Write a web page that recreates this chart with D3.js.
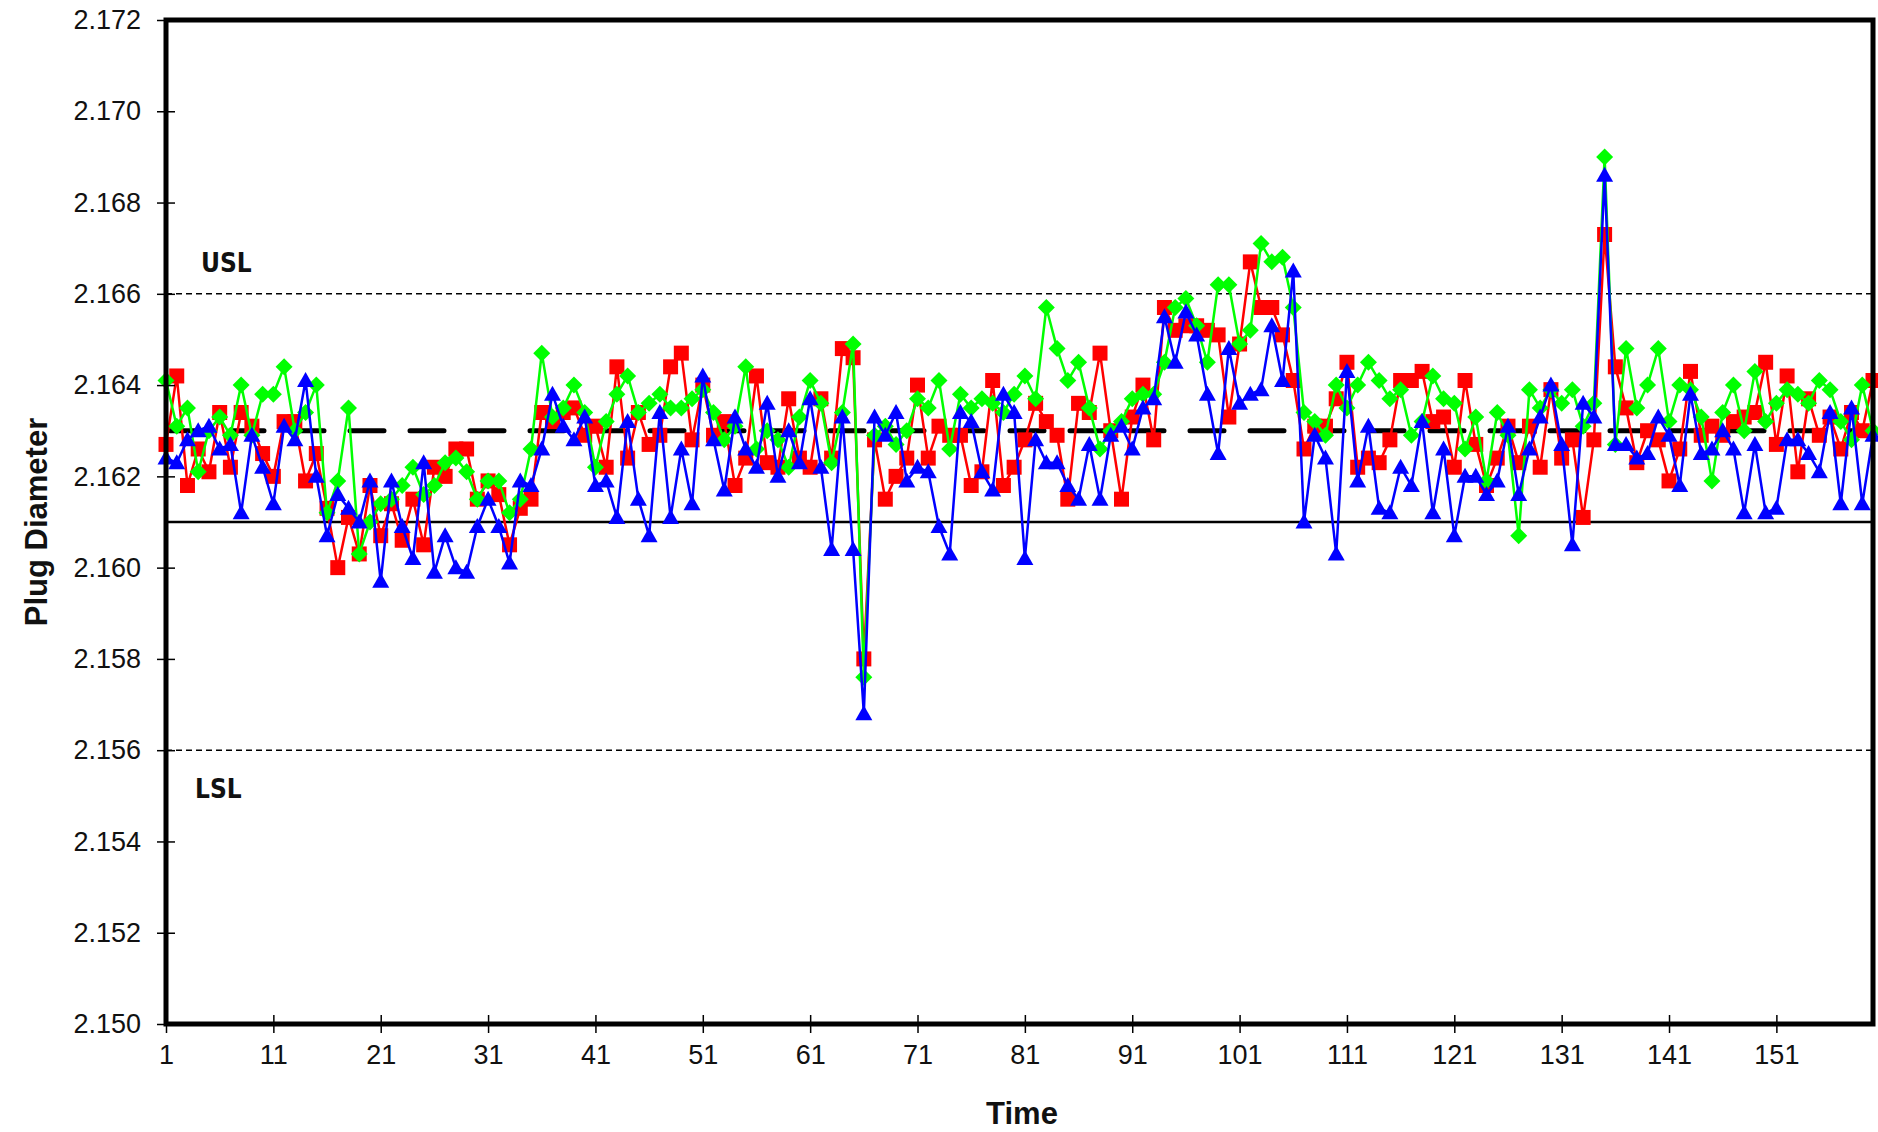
<!DOCTYPE html>
<html>
<head>
<meta charset="utf-8">
<script src="https://cdn.jsdelivr.net/npm/d3@7/dist/d3.min.js"></script>
<style>
  html, body { margin: 0; padding: 0; background: #fff; }
  svg { display: block; }
</style>
</head>
<body>
<svg id="chart" width="1878" height="1132"></svg>
<script>
// Sample index (time) for each measurement
const timeIndex = d3.range(1, 161);

// Plug diameter readings, three gauges
const seriesRed = [
  2.1627,2.1642,2.1618,2.1626,2.1621,2.1634,2.1622,2.1634,2.1631,2.1625,
  2.1620,2.1632,2.1632,2.1619,2.1625,2.1613,2.1600,2.1611,2.1603,2.1618,
  2.1607,2.1614,2.1606,2.1615,2.1605,2.1622,2.1620,2.1626,2.1626,2.1615,
  2.1619,2.1616,2.1605,2.1613,2.1615,2.1634,2.1632,2.1634,2.1635,2.1629,
  2.1631,2.1622,2.1644,2.1624,2.1634,2.1627,2.1629,2.1644,2.1647,2.1628,
  2.1640,2.1629,2.1632,2.1618,2.1624,2.1642,2.1623,2.1622,2.1637,2.1624,
  2.1622,2.1637,2.1624,2.1648,2.1646,2.1580,2.1628,2.1615,2.1620,2.1624,
  2.1640,2.1624,2.1631,2.1629,2.1629,2.1618,2.1621,2.1641,2.1618,2.1622,
  2.1628,2.1636,2.1632,2.1629,2.1615,2.1636,2.1634,2.1647,2.1630,2.1615,
  2.1633,2.1640,2.1628,2.1657,2.1652,2.1653,2.1653,2.1652,2.1651,2.1633,
  2.1649,2.1667,2.1657,2.1657,2.1651,2.1641,2.1626,2.1631,2.1631,2.1637,
  2.1645,2.1622,2.1624,2.1623,2.1628,2.1641,2.1641,2.1643,2.1632,2.1633,
  2.1622,2.1641,2.1627,2.1618,2.1624,2.1631,2.1623,2.1631,2.1622,2.1639,
  2.1624,2.1628,2.1611,2.1628,2.1673,2.1644,2.1635,2.1623,2.1630,2.1628,
  2.1619,2.1626,2.1643,2.1629,2.1631,2.1629,2.1632,2.1633,2.1634,2.1645,
  2.1627,2.1642,2.1621,2.1637,2.1629,2.1633,2.1626,2.1634,2.1630,2.1641
];

const seriesGreen = [
  2.1641,2.1631,2.1635,2.1621,2.1630,2.1633,2.1629,2.1640,2.1629,2.1638,
  2.1638,2.1644,2.1630,2.1634,2.1640,2.1612,2.1619,2.1635,2.1603,2.1610,
  2.1614,2.1615,2.1618,2.1622,2.1616,2.1618,2.1623,2.1624,2.1621,2.1615,
  2.1619,2.1619,2.1612,2.1615,2.1626,2.1647,2.1633,2.1635,2.1640,2.1634,
  2.1622,2.1632,2.1638,2.1642,2.1634,2.1636,2.1638,2.1635,2.1635,2.1637,
  2.1639,2.1634,2.1628,2.1631,2.1644,2.1626,2.1630,2.1628,2.1622,2.1633,
  2.1641,2.1636,2.1623,2.1634,2.1649,2.1576,2.1629,2.1631,2.1627,2.1630,
  2.1637,2.1635,2.1641,2.1626,2.1638,2.1635,2.1637,2.1636,2.1634,2.1638,
  2.1642,2.1637,2.1657,2.1648,2.1641,2.1645,2.1635,2.1626,2.1630,2.1632,
  2.1637,2.1638,2.1638,2.1645,2.1657,2.1659,2.1653,2.1645,2.1662,2.1662,
  2.1649,2.1652,2.1671,2.1667,2.1668,2.1657,2.1634,2.1632,2.1629,2.1640,
  2.1635,2.1640,2.1645,2.1641,2.1637,2.1639,2.1629,2.1632,2.1642,2.1637,
  2.1636,2.1626,2.1633,2.1619,2.1634,2.1629,2.1607,2.1639,2.1635,2.1639,
  2.1636,2.1639,2.1631,2.1636,2.1690,2.1627,2.1648,2.1635,2.1640,2.1648,
  2.1632,2.1640,2.1639,2.1633,2.1619,2.1634,2.1640,2.1630,2.1643,2.1632,
  2.1636,2.1639,2.1638,2.1636,2.1641,2.1639,2.1632,2.1628,2.1640,2.1630
];

const seriesBlue = [
  2.1624,2.1623,2.1628,2.1630,2.1631,2.1626,2.1627,2.1612,2.1629,2.1622,
  2.1614,2.1631,2.1628,2.1641,2.1620,2.1607,2.1616,2.1613,2.1610,2.1619,
  2.1597,2.1619,2.1609,2.1602,2.1623,2.1599,2.1607,2.1600,2.1599,2.1609,
  2.1615,2.1609,2.1601,2.1619,2.1618,2.1626,2.1638,2.1631,2.1628,2.1633,
  2.1618,2.1619,2.1611,2.1632,2.1615,2.1607,2.1634,2.1611,2.1626,2.1614,
  2.1642,2.1628,2.1617,2.1633,2.1626,2.1622,2.1636,2.1620,2.1630,2.1623,
  2.1637,2.1622,2.1604,2.1633,2.1604,2.1568,2.1633,2.1629,2.1634,2.1619,
  2.1622,2.1621,2.1609,2.1603,2.1634,2.1632,2.1621,2.1617,2.1638,2.1634,
  2.1602,2.1628,2.1623,2.1623,2.1618,2.1615,2.1627,2.1615,2.1629,2.1631,
  2.1626,2.1635,2.1637,2.1655,2.1645,2.1656,2.1651,2.1638,2.1625,2.1648,
  2.1636,2.1638,2.1639,2.1653,2.1641,2.1665,2.1610,2.1629,2.1624,2.1603,
  2.1643,2.1619,2.1631,2.1613,2.1612,2.1622,2.1618,2.1632,2.1612,2.1626,
  2.1607,2.1620,2.1620,2.1616,2.1619,2.1631,2.1616,2.1626,2.1633,2.1640,
  2.1627,2.1605,2.1636,2.1633,2.1686,2.1627,2.1627,2.1624,2.1625,2.1633,
  2.1629,2.1618,2.1638,2.1625,2.1626,2.1630,2.1626,2.1612,2.1627,2.1612,
  2.1613,2.1628,2.1628,2.1625,2.1621,2.1634,2.1614,2.1635,2.1614,2.1629
];

// Reference levels
const usl = 2.166;
const lsl = 2.156;
const centerLine = 2.163;
const lowerLine = 2.161;

// Axis ticks
const yTicks = [2.150,2.152,2.154,2.156,2.158,2.160,2.162,2.164,2.166,2.168,2.170,2.172];
const xTicks = [1,11,21,31,41,51,61,71,81,91,101,111,121,131,141,151];

const svg = d3.select("#chart");
const plotLeft = 166, plotRight = 1873, plotTop = 20, plotBottom = 1024;

const x = d3.scaleLinear().domain([1, 160]).range([plotLeft, plotRight]);
const y = d3.scaleLinear().domain([2.150, 2.172]).range([plotBottom, plotTop]);

// Reference lines
const refs = svg.append("g");
[usl, lsl].forEach(v => {
  refs.append("line")
    .attr("x1", plotLeft).attr("x2", plotRight)
    .attr("y1", y(v)).attr("y2", y(v))
    .attr("stroke", "#000").attr("stroke-width", 1.6)
    .attr("stroke-dasharray", "6,4");
});
refs.append("line")
  .attr("x1", plotLeft).attr("x2", plotRight)
  .attr("y1", y(lowerLine)).attr("y2", y(lowerLine))
  .attr("stroke", "#000").attr("stroke-width", 2.4);
refs.append("line")
  .attr("x1", plotLeft + 4).attr("x2", plotRight)
  .attr("y1", y(centerLine)).attr("y2", y(centerLine))
  .attr("stroke", "#000").attr("stroke-width", 5)
  .attr("stroke-linecap", "round")
  .attr("stroke-dasharray", "34,26");

// Data series
const series = [
  { values: seriesRed,   color: "#ff0000", shape: "square" },
  { values: seriesGreen, color: "#00ff00", shape: "diamond" },
  { values: seriesBlue,  color: "#0000ff", shape: "triangle" }
];

const line = d3.line()
  .x((d, i) => x(timeIndex[i]))
  .y(d => y(d));

const markerPath = {
  square:   "M-7.5,-7.5H7.5V7.5H-7.5Z",
  diamond:  "M0,-8.5L8.5,0L0,8.5L-8.5,0Z",
  triangle: "M0,-8.5L8.5,6.5L-8.5,6.5Z"
};

const seriesLayer = svg.append("g");
series.forEach(s => {
  const g = seriesLayer.append("g");
  g.append("path")
    .attr("d", line(s.values))
    .attr("fill", "none")
    .attr("stroke", s.color)
    .attr("stroke-width", 2.5)
    .attr("stroke-linejoin", "round");
  g.selectAll("path.mk")
    .data(s.values)
    .join("path")
    .attr("class", "mk")
    .attr("transform", (d, i) => `translate(${x(timeIndex[i])},${y(d)})`)
    .attr("d", markerPath[s.shape])
    .attr("fill", s.color);
});

// Spec limit labels
svg.append("text")
  .attr("x", 201).attr("y", y(usl) - 22)
  .attr("font-family", "'DejaVu Sans Condensed', 'DejaVu Sans', sans-serif")
  .attr("font-weight", "bold").attr("font-size", 26)
  .attr("fill", "#111")
  .text("USL");
svg.append("text")
  .attr("x", 195).attr("y", y(lsl) + 48)
  .attr("font-family", "'DejaVu Sans Condensed', 'DejaVu Sans', sans-serif")
  .attr("font-weight", "bold").attr("font-size", 26)
  .attr("fill", "#111")
  .text("LSL");

// Y axis
const yAxis = d3.axisLeft(y)
  .tickValues(yTicks)
  .tickFormat(d3.format(".3f"))
  .tickSize(9)
  .tickPadding(16);
const gy = svg.append("g").attr("transform", `translate(${plotLeft},0)`).call(yAxis);
gy.select(".domain").remove();
gy.selectAll(".tick line").attr("x2", -9).attr("x1", 9).attr("stroke", "#000").attr("stroke-width", 1.5);
gy.selectAll(".tick text")
  .attr("font-family", "'Liberation Sans', Arial, sans-serif")
  .attr("font-size", 27).attr("fill", "#111");

// X axis
const xAxis = d3.axisBottom(x)
  .tickValues(xTicks)
  .tickFormat(d3.format("d"))
  .tickSize(9)
  .tickPadding(12);
const gx = svg.append("g").attr("transform", `translate(0,${plotBottom})`).call(xAxis);
gx.select(".domain").remove();
gx.selectAll(".tick line").attr("y1", -9).attr("y2", 9).attr("stroke", "#000").attr("stroke-width", 1.5);
gx.selectAll(".tick text")
  .attr("font-family", "'Liberation Sans', Arial, sans-serif")
  .attr("font-size", 27).attr("fill", "#111");

// Plot frame
svg.append("rect")
  .attr("x", plotLeft).attr("y", plotTop)
  .attr("width", plotRight - plotLeft).attr("height", plotBottom - plotTop)
  .attr("fill", "none").attr("stroke", "#000").attr("stroke-width", 5);

// Axis titles
svg.append("text")
  .attr("x", 1022).attr("y", 1124)
  .attr("text-anchor", "middle")
  .attr("font-family", "'Liberation Sans', Arial, sans-serif")
  .attr("font-weight", "bold").attr("font-size", 31)
  .attr("fill", "#111")
  .text("Time");
svg.append("text")
  .attr("transform", `translate(47,${(plotTop + plotBottom) / 2}) rotate(-90)`)
  .attr("text-anchor", "middle")
  .attr("font-family", "'Liberation Sans', Arial, sans-serif")
  .attr("font-weight", "bold").attr("font-size", 31)
  .attr("fill", "#111")
  .text("Plug Diameter");
</script>
</body>
</html>
